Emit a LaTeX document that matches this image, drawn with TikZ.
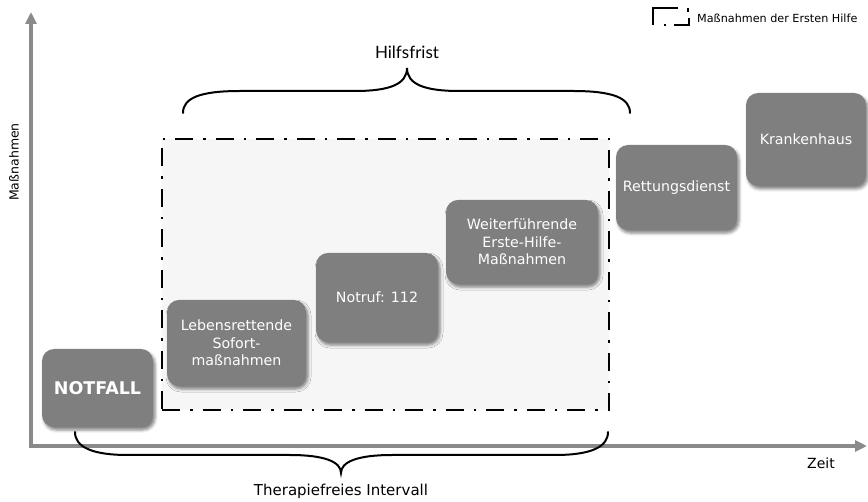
\documentclass[tikz,border=0pt]{standalone}
\usepackage{fontspec}
\setmainfont{DejaVu Sans}
\newfontfamily\latofont{Lato}
\usetikzlibrary{arrows.meta,shadows.blur}
\definecolor{boxgrey}{HTML}{7F7F7F}
\definecolor{axisgrey}{HTML}{8A8A8A}
\definecolor{areafill}{HTML}{F6F6F6}
\begin{document}
\begin{tikzpicture}[x=1pt,y=-1pt,
  stepbox/.style={rectangle, rounded corners=12pt, fill=boxgrey, text=white,
    align=center, inner sep=0pt, font=\fontsize{14.2}{17.5}\selectfont,
    blur shadow={shadow xshift=2pt, shadow yshift=-3pt, shadow blur radius=3pt, shadow opacity=50}},
  areabox/.style={draw=black, fill=areafill, line width=2.7pt, inner sep=0pt,
    dash pattern=on 18pt off 10pt on 2.5pt off 10pt},
  legline/.style={draw=black, line width=2.7pt},
  axisline/.style={draw=axisgrey, line width=4.5pt, line join=miter,
    {Triangle[length=12pt,width=11pt]}-{Triangle[length=12pt,width=11pt]}},
  bracepath/.style={draw=black, line width=2pt, line cap=round},
  lbl/.style={inner sep=0pt, text=black}
]
\useasboundingbox (0,0) rectangle (868,502);

% Axes
\coordinate (ytop) at (31,12);
\coordinate (origin) at (31,446);
\coordinate (xend) at (867,446);
\draw[axisline] (ytop) -- (origin) -- (xend);

\node[lbl, rotate=90, font=\fontsize{12.5}{15}\selectfont] (ylab) at (14,162) {Maßnahmen};
\node[lbl, font=\fontsize{14}{17}\selectfont] (xlab) at (821,463) {Zeit};

% First-aid area
\node[areabox, minimum width=447pt, minimum height=271pt] (area) at (385.5,274.5) {};

% Boxes
\node[stepbox, minimum width=111pt, minimum height=78pt, font=\bfseries\fontsize{17.5}{20}\selectfont] (notfall) at (97.5,388) {NOTFALL};
\node[stepbox, minimum width=139pt, minimum height=86pt] (leben) at (236.5,343) {Lebensrettende\\Sofort-\\maßnahmen};
\node[stepbox, minimum width=122pt, minimum height=89pt] (notruf) at (377,297.5) {Notruf: 112};
\node[stepbox, minimum width=152pt, minimum height=84pt] (weiter) at (522,242) {Weiterführende\\Erste-Hilfe-\\Maßnahmen};
\node[stepbox, minimum width=121pt, minimum height=85pt] (rettung) at (676.5,187.5) {Rettungsdienst};
\node[stepbox, minimum width=120pt, minimum height=93pt] (kranken) at (806,139.5) {Krankenhaus};

% Hilfsfrist brace
\coordinate (hbL) at (183,113);
\coordinate (hbT) at (407,68);
\coordinate (hbR) at (630,113);
\draw[bracepath] (hbL) .. controls (183,98) and (200,91) .. (240,91) -- (355,91)
  .. controls (390,91) and (407,84) .. (hbT)
  .. controls (407,84) and (424,91) .. (459,91) -- (573,91)
  .. controls (613,91) and (630,98) .. (hbR);
\node[lbl, font=\latofont\fontsize{17}{20}\selectfont] (hilfs) at (407,52) {Hilfsfrist};

% Therapiefreies Intervall brace
\coordinate (bbL) at (75,432);
\coordinate (bbT) at (341,473);
\coordinate (bbR) at (608,432);
\draw[bracepath] (bbL) .. controls (75,447) and (92,455) .. (128,455) -- (290,455)
  .. controls (325,455) and (341,462) .. (bbT)
  .. controls (341,462) and (357,455) .. (392,455) -- (555,455)
  .. controls (591,455) and (608,447) .. (bbR);
\node[lbl, font=\fontsize{15}{18}\selectfont] (thera) at (341,491) {Therapiefreies Intervall};

% Legend
\draw[legline] (678,8) -- (653,8) -- (653,25);
\draw[legline] (688,8) -- (688,12);
\draw[legline] (663.5,25) -- (666,25);
\draw[legline] (674,25) -- (689,25) -- (689,18);
\node[lbl, anchor=west, font=\fontsize{11.2}{13}\selectfont] (legtext) at (697,18) {Maßnahmen der Ersten Hilfe};
\end{tikzpicture}
\end{document}
